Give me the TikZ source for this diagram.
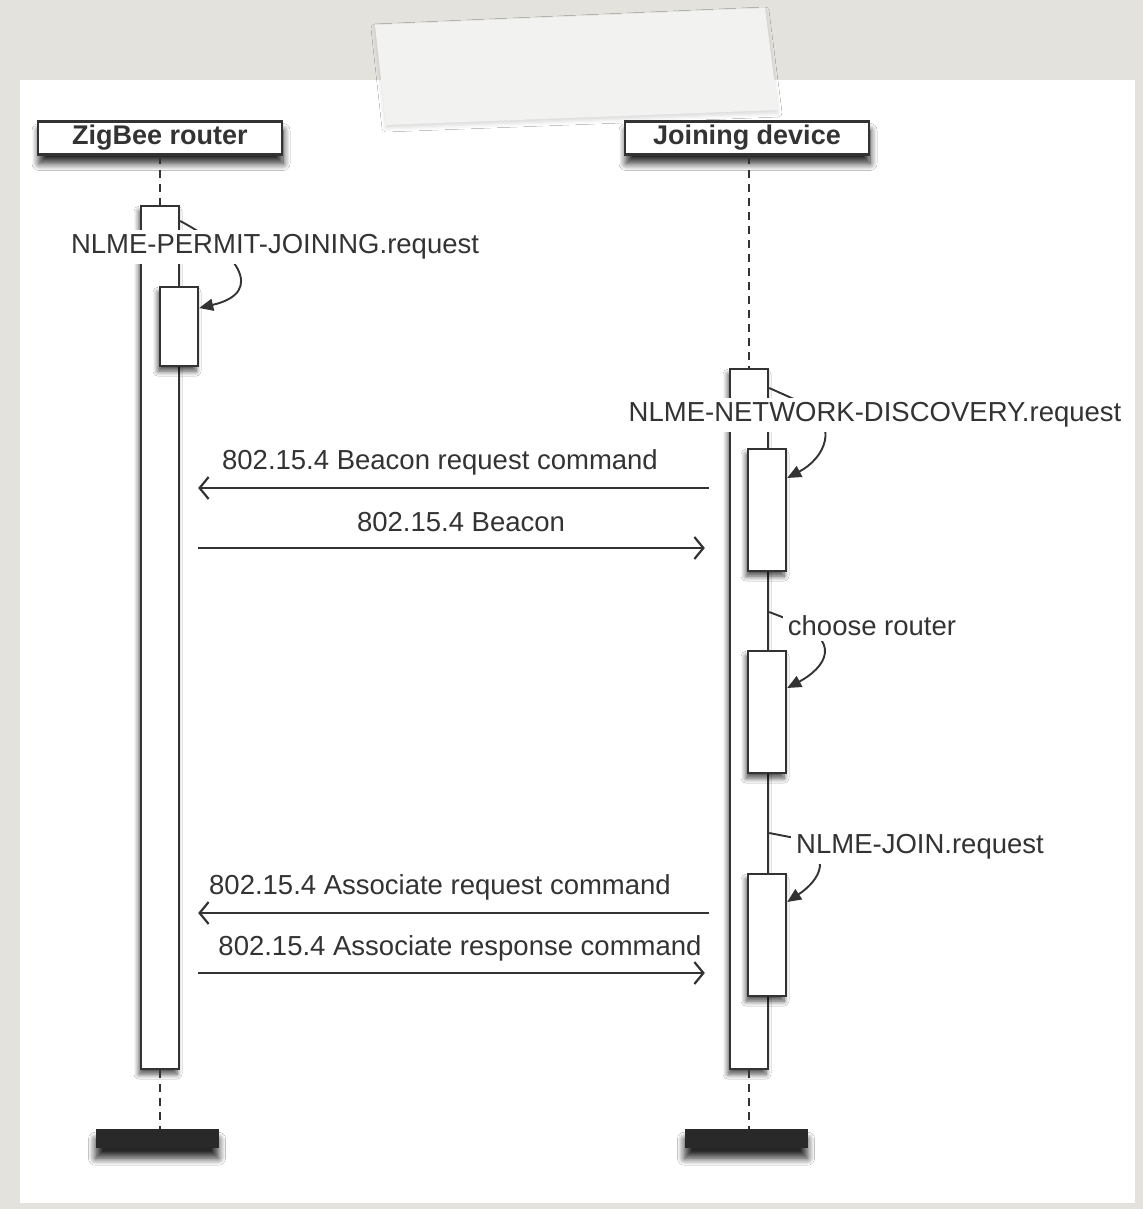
\documentclass[tikz,border=0pt]{standalone}
\usepackage{fontspec}
\setmainfont{Liberation Sans}
\usetikzlibrary{arrows.meta,shadows.blur}
\definecolor{bgc}{HTML}{E3E2DD}
\definecolor{ink}{HTML}{333333}
\definecolor{tapec}{HTML}{F2F2F1}
\begin{document}
\begin{tikzpicture}[x=1pt,y=-1pt,
  lbl/.style={font=\fontsize{27.5}{31}\selectfont, text=ink, inner sep=2pt},
  flbl/.style={lbl, fill=white, inner sep=5pt},
  headbox/.style={draw=ink, line width=2.6pt, fill=white, minimum width=244pt, minimum height=33pt,
    font=\bfseries\fontsize{27}{30}\selectfont, text=ink, inner sep=0pt,
    blur shadow={shadow xshift=1pt, shadow yshift=-9pt, shadow blur steps=10, shadow blur radius=7pt, shadow opacity=85}},
  actbar/.style={draw=ink, line width=2.4pt, fill=white, minimum width=38pt, anchor=north, inner sep=0pt,
    blur shadow={shadow xshift=-2pt, shadow yshift=-5pt, shadow blur steps=8, shadow blur radius=5pt, shadow opacity=70}},
  endbar/.style={fill=ink!80!black, minimum width=123pt, minimum height=19pt, anchor=north, inner sep=0pt,
    blur shadow={shadow xshift=0pt, shadow yshift=-10pt, shadow blur steps=10, shadow blur radius=7pt, shadow opacity=85}},
  life/.style={draw=ink, line width=1.7pt, dash pattern=on 8pt off 6pt},
  msg/.style={draw=ink, line width=2.2pt, -{Straight Barb[length=9pt,width=22pt,line width=2.2pt]}},
  selfmsg/.style={draw=ink, line width=1.9pt, -{Triangle[length=14pt,width=12pt]}}]

% background and panel
\fill[bgc] (0,0) rectangle (1143,1209);
\useasboundingbox (0,0) rectangle (1143,1209);
\fill[white] (20,80) rectangle (1135,1203);
\fill[tapec, blur shadow={shadow xshift=0pt, shadow yshift=-3pt, shadow blur radius=4pt, shadow opacity=15}]
  (375,25) -- (765,8) -- (778,110) -- (386,125) -- cycle;

% lifeline heads
\node[headbox] (hz) at (160,138) {ZigBee router};
\node[headbox] (hj) at (747,138) {Joining device};

% activation bars
\node[actbar, minimum height=863pt] (barL) at (160,205) {};
\node[actbar, minimum height=700pt] (barR) at (749,368) {};
\node[actbar, minimum height=79pt]  (nL)  at (179,286) {};
\node[actbar, minimum height=122pt] (nR1) at (767,448) {};
\node[actbar, minimum height=122pt] (nR2) at (767,650) {};
\node[actbar, minimum height=122pt] (nR3) at (767,873) {};

% end markers
\node[endbar] (endL) at (157,1129) {};
\node[endbar] (endR) at (746,1129) {};

% dashed lifelines
\draw[life] (hz.south) -- (barL.north);
\draw[life] (hj.south -| barR.north) -- (barR.north);
\draw[life] (barL.south) -- (barL.south |- endL.north);
\draw[life] (barR.south) -- (barR.south |- endR.north);

% self messages
\draw[selfmsg] (barL.east |- 0,221) .. controls (235,250) and (268,292) .. (nL.east |- 0,308);
\draw[selfmsg] (barR.east |- 0,388) -- (805,404) .. controls (840,425) and (825,458) .. (nR1.east |- 0,478);
\draw[selfmsg] (barR.east |- 0,612) -- (790,620) .. controls (845,640) and (825,668) .. (nR2.east |- 0,688);
\draw[selfmsg] (barR.east |- 0,833) -- (795,838) .. controls (835,855) and (820,880) .. (nR3.east |- 0,902);

% self message labels
\node[flbl] (sl1) at (275,247) {NLME-PERMIT-JOINING.request};
\node[flbl] (sl2) at (875,415) {NLME-NETWORK-DISCOVERY.request};
\node[flbl] (sl3) at (872,626) {choose router};
\node[flbl] (sl4) at (920,847) {NLME-JOIN.request};

% messages
\coordinate (m1) at (0,488);
\coordinate (m2) at (0,548);
\coordinate (m3) at (0,913);
\coordinate (m4) at (0,973);
\draw[msg, shorten <=20pt, shorten >=18pt] (barR.west |- m1) -- (barL.east |- m1);
\draw[msg, shorten <=18pt, shorten >=24pt] (barL.east |- m2) -- (barR.west |- m2);
\draw[msg, shorten <=20pt, shorten >=18pt] (barR.west |- m3) -- (barL.east |- m3);
\draw[msg, shorten <=18pt, shorten >=24pt] (barL.east |- m4) -- (barR.west |- m4);

\node[lbl] (ml1) at (440,462) {802.15.4 Beacon request command};
\node[lbl] (ml2) at (461,522) {802.15.4 Beacon};
\node[lbl] (ml3) at (440,887) {802.15.4 Associate request command};
\node[lbl] (ml4) at (460,948) {802.15.4 Associate response command};
\end{tikzpicture}
\end{document}
